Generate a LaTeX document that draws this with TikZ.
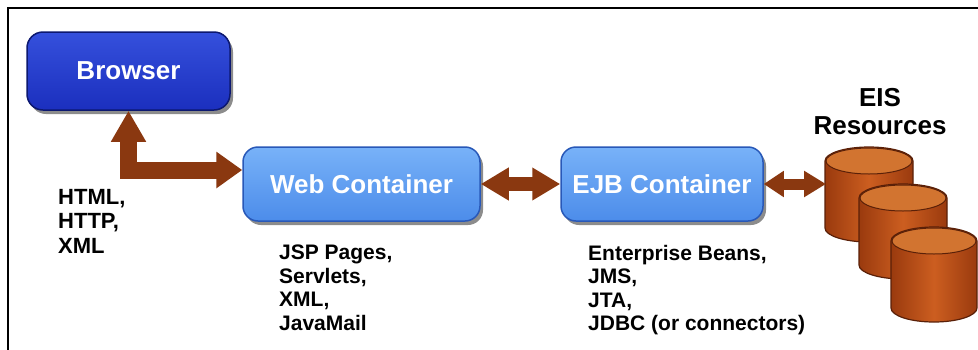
\documentclass[tikz,border=0pt]{standalone}
\usepackage{fontspec}
\setmainfont{Liberation Sans}
\usetikzlibrary{arrows.meta,shadows,calc}
\definecolor{brdark}{HTML}{1B2FBE}
\definecolor{brtop}{HTML}{3550DC}
\definecolor{brline}{HTML}{0C1870}
\definecolor{ctop}{HTML}{78B2F8}
\definecolor{cbot}{HTML}{4C8CEA}
\definecolor{cline}{HTML}{2858B8}
\definecolor{arrowc}{HTML}{8A3810}
\definecolor{cylmid}{HTML}{CC5E20}
\definecolor{cyledge}{HTML}{9A3A0E}
\definecolor{cyltop}{HTML}{D27430}
\definecolor{cylline}{HTML}{5A2008}
\tikzset{
  boxshadow/.style={drop shadow={shadow xshift=3pt,shadow yshift=-4pt,opacity=0.45,fill=black}},
  darkbox/.style={rounded corners=16pt, draw=brline, line width=1.5pt, top color=brtop, bottom color=brdark, boxshadow,
    text=white, font=\fontsize{26}{30}\selectfont\bfseries, minimum width=203pt, minimum height=78pt, inner sep=0pt},
  lightbox/.style={rounded corners=15pt, draw=cline, line width=1.5pt, top color=ctop, bottom color=cbot, boxshadow,
    text=white, font=\fontsize{26}{30}\selectfont\bfseries, minimum height=74pt, inner sep=0pt},
  lbl/.style={align=left, inner sep=0pt, anchor=north west, font=\fontsize{21}{23.5}\selectfont\bfseries},
  bigarrow/.style={draw=arrowc, line width=14pt, {Triangle[length=28pt,width=31pt]}-{Triangle[length=28pt,width=31pt]}},
  smallarrow/.style={draw=arrowc, line width=11pt, {Triangle[length=20pt,width=25pt]}-{Triangle[length=22pt,width=25pt]}},
  elbowarrow/.style={draw=arrowc, line width=17pt, line join=miter, {Triangle[length=31pt,width=33pt]}-{Triangle[length=26pt,width=35pt]}},
  cylbody/.style={draw=cylline, line width=1.2pt, left color=cyledge, right color=cyledge, middle color=cylmid},
  cyltopface/.style={draw=cylline, line width=1pt, fill=cyltop}
}
\newcommand{\eiscyl}[4]{%
  \path[cylbody] ({#1-#3},{#2}) -- ({#1-#3},{#2+67}) arc[start angle=180,end angle=0,x radius=#3,y radius=14]
    -- ({#1+#3},{#2}) arc[start angle=0,end angle=-180,x radius=#3,y radius=14] -- cycle;
  \path[cyltopface] (#1,#2) ellipse[x radius=#3-1, y radius=13];
  \coordinate (#4) at ({#1-#3},{#2+22});
}
\begin{document}
\begin{tikzpicture}[x=1pt,y=-1pt]
\useasboundingbox (0,0) rectangle (978,349);
\fill[white] (0,0) rectangle (978,349);
\draw[line width=2pt, line cap=rect] (8,349) -- (8,8) -- (978,8);

\node[darkbox] (browser) at (128.5,71) {Browser};
\node[lightbox, minimum width=237pt] (web) at (361.5,184) {Web Container};
\node[lightbox, minimum width=202pt] (ejb) at (662,184) {EJB Container};

\eiscyl{869}{161}{44}{eisA}
\eiscyl{903}{198}{44}{eisB}
\eiscyl{934}{241}{43}{eisC}
\coordinate (eisL) at (826,184);

\node[align=center, inner sep=0pt, anchor=north, font=\fontsize{26}{28}\selectfont\bfseries] (eis) at (880,88) {EIS\\Resources};

\draw[elbowarrow] (browser.south) |- ($(web.west)+(0,-14)$);
\draw[bigarrow] (web.east) -- (ejb.west);
\draw[smallarrow] (ejb.east) -- (eisL);

\node[lbl, font=\fontsize{22}{24.5}\selectfont\bfseries] (proto) at (58,189) {HTML,\\HTTP,\\XML};
\node[lbl] (weblist) at (279,245) {JSP Pages,\\Servlets,\\XML,\\JavaMail};
\node[lbl] (ejblist) at (588,245) {Enterprise Beans,\\JMS,\\JTA,\\JDBC (or connectors)};
\end{tikzpicture}
\end{document}
